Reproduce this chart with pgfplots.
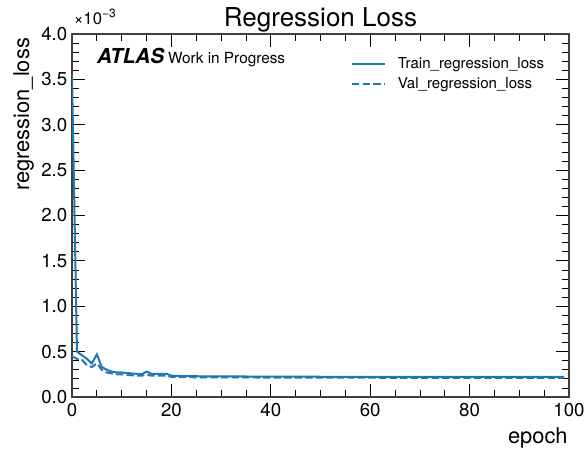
\documentclass[border=0pt]{standalone}
\usepackage{fontspec}
\setmainfont{TeX Gyre Heros}
\usepackage{pgfplots}
\pgfplotsset{compat=1.18}
\definecolor{mplblue}{HTML}{1F77B4}

\begin{document}
\begin{tikzpicture}
\begin{axis}[
  scale only axis,
  width=372.75pt, height=272.25pt,
  clip mode=individual,
  xmin=0, xmax=100, ymin=0, ymax=4,
  xtick={0,20,...,100}, ytick={0,0.5,...,4},
  minor x tick num=3, minor y tick num=4,
  tick pos=both, tick align=inside,
  major tick length=9.5pt, minor tick length=5pt,
  every tick/.style={black, line width=0.6pt},
  axis line style={line width=0.8pt, black!75},
  scaled ticks=false,
  /pgf/number format/assume math mode=true,
  yticklabel style={/pgf/number format/.cd, fixed, fixed zerofill, precision=1},
  tick label style={font={\fontsize{14}{16}\selectfont}},
  xticklabel style={yshift=-1pt},
  title={Regression Loss},
  title style={font={\fontsize{19.5}{22}\selectfont}, at={(0.5,1)}, anchor=base, yshift=-0.3pt},
  xlabel={epoch},
  xlabel style={font={\fontsize{16.4}{18}\selectfont}, at={(rel axis cs:1,0)}, anchor=base east, yshift=-35pt, xshift=2.5pt},
  ylabel={regression\_loss},
  ylabel style={font={\fontsize{16.4}{18}\selectfont}, at={(rel axis cs:0,1)}, anchor=south east, yshift=25pt, xshift=0.5pt},
  legend style={draw=none, fill=none, at={(0.553,0.952)}, anchor=north west,
    font={\fontsize{11.3}{13}\selectfont}, row sep=2pt, column sep=7pt},
  legend cell align=left,
  legend image code/.code={\draw[#1] (0pt,0pt) -- (24.5pt,0pt);},
  legend image post style={line width=1.5pt},
]
\addplot[mplblue, line width=1.5pt] coordinates {
  (0,3.55)(1,0.50)(2,0.46)(3,0.42)(4,0.37)(5,0.47)(6,0.33)(7,0.30)(8,0.28)(9,0.27)
  (10,0.27)(11,0.265)(12,0.26)(13,0.255)(14,0.25)(15,0.28)(16,0.255)(17,0.255)(18,0.255)(19,0.255)
  (20,0.235)(21,0.232)(22,0.231)(23,0.230)(24,0.229)(25,0.229)(26,0.228)(27,0.228)(28,0.228)(29,0.227)
  (30,0.227)(31,0.227)(32,0.226)(33,0.226)(34,0.226)(35,0.226)(36,0.225)(37,0.225)(38,0.225)(39,0.225)
  (40,0.225)(41,0.225)(42,0.224)(43,0.224)(44,0.224)(45,0.224)(46,0.224)(47,0.224)(48,0.224)(49,0.224)
  (50,0.223)(51,0.223)(52,0.223)(53,0.223)(54,0.223)(55,0.223)(56,0.223)(57,0.223)(58,0.223)(59,0.223)
  (60,0.223)(61,0.223)(62,0.223)(63,0.222)(64,0.222)(65,0.222)(66,0.222)(67,0.222)(68,0.222)(69,0.222)
  (70,0.222)(71,0.222)(72,0.222)(73,0.222)(74,0.222)(75,0.222)(76,0.222)(77,0.222)(78,0.222)(79,0.222)
  (80,0.222)(81,0.222)(82,0.222)(83,0.222)(84,0.222)(85,0.222)(86,0.222)(87,0.222)(88,0.222)(89,0.222)
  (90,0.222)(91,0.222)(92,0.222)(93,0.222)(94,0.222)(95,0.222)(96,0.222)(97,0.222)(98,0.222)(99,0.222)
};
\addplot[mplblue, line width=1.5pt, dash pattern=on 5.5pt off 2.4pt] coordinates {
  (0,0.45)(1,0.42)(2,0.41)(3,0.35)(4,0.33)(5,0.37)(6,0.30)(7,0.27)(8,0.26)(9,0.25)
  (10,0.25)(11,0.245)(12,0.24)(13,0.235)(14,0.235)(15,0.245)(16,0.235)(17,0.235)(18,0.235)(19,0.235)
  (20,0.222)(21,0.220)(22,0.219)(23,0.218)(24,0.218)(25,0.217)(26,0.217)(27,0.217)(28,0.216)(29,0.216)
  (30,0.216)(31,0.216)(32,0.215)(33,0.215)(34,0.215)(35,0.215)(36,0.215)(37,0.215)(38,0.214)(39,0.214)
  (40,0.214)(41,0.214)(42,0.214)(43,0.214)(44,0.214)(45,0.214)(46,0.213)(47,0.213)(48,0.213)(49,0.213)
  (50,0.213)(51,0.213)(52,0.213)(53,0.213)(54,0.213)(55,0.213)(56,0.213)(57,0.213)(58,0.213)(59,0.213)
  (60,0.213)(61,0.213)(62,0.212)(63,0.212)(64,0.212)(65,0.212)(66,0.212)(67,0.212)(68,0.212)(69,0.212)
  (70,0.212)(71,0.212)(72,0.212)(73,0.212)(74,0.212)(75,0.212)(76,0.212)(77,0.212)(78,0.212)(79,0.212)
  (80,0.212)(81,0.212)(82,0.212)(83,0.212)(84,0.212)(85,0.212)(86,0.212)(87,0.212)(88,0.212)(89,0.212)
  (90,0.212)(91,0.212)(92,0.212)(93,0.212)(94,0.212)(95,0.212)(96,0.212)(97,0.212)(98,0.212)(99,0.212)
};
\legend{Train\_regression\_loss, Val\_regression\_loss}
\node[anchor=base west, inner sep=0pt] at (axis description cs:0.05,0.92)
  {{\fontsize{15.5}{17}\selectfont\bfseries\itshape ATLAS}\hspace{3pt}{\fontsize{11.5}{13}\selectfont Work in Progress}};
\node[anchor=base west, inner sep=0pt, font={\fontsize{12.5}{14}\selectfont}] at (axis description cs:0.003,1.025)
  {×10\raisebox{0.45em}{\fontsize{9}{10}\selectfont −3}};
\end{axis}
\pgfresetboundingbox
\path[use as bounding box] (-54pt,-41.25pt) rectangle (384pt,297.75pt);
\end{tikzpicture}
\end{document}
